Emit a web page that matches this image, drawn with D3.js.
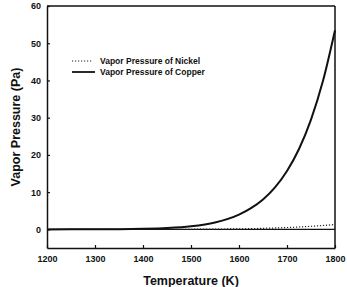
<!DOCTYPE html>
<html>
<head>
<meta charset="utf-8">
<script src="https://cdn.jsdelivr.net/npm/d3@7"></script>
<style>
  body { margin: 0; background: #fff; }
  text { font-family: "Liberation Sans", Arial, sans-serif; font-weight: bold; fill: #111; }
</style>
</head>
<body>
<div id="chart"></div>
<script>
// temperatures (K) and pressures (Pa)
var temps = [1200, 1250, 1300, 1350, 1400, 1450, 1500, 1550, 1600, 1625, 1650, 1675, 1700, 1725, 1750, 1775, 1800];
var copper = [0.002, 0.006, 0.018, 0.05, 0.14, 0.35, 0.83, 1.86, 3.96, 5.7, 8.05, 11.3, 15.7, 21.6, 29.5, 39.9, 53.5];
var nickel = [0.0, 0.0, 0.001, 0.004, 0.01, 0.02, 0.04, 0.08, 0.15, 0.2, 0.28, 0.38, 0.5, 0.64, 0.82, 1.04, 1.3];
var seriesNames = ["Vapor Pressure of Nickel", "Vapor Pressure of Copper"];
var xTicks = [1200, 1300, 1400, 1500, 1600, 1700, 1800];
var yTicks = [0, 10, 20, 30, 40, 50, 60];

var svgWidth = 347, svgHeight = 287;
var margin = { top: 6, right: 12, bottom: 39, left: 47 };
var width = svgWidth - margin.left - margin.right;
var height = svgHeight - margin.top - margin.bottom;

var svg = d3.select("#chart").append("svg")
    .attr("width", svgWidth)
    .attr("height", svgHeight);

var g = svg.append("g")
    .attr("transform", `translate(${margin.left},${margin.top})`);

var x = d3.scaleLinear().domain([1200, 1800]).range([0, width]);
var y = d3.scaleLinear().domain([-5, 60]).range([height, 0]);

// axes, ticks point inside
var bottomAxis = d3.axisBottom(x).tickValues(xTicks).tickFormat(d3.format("d"))
    .tickSizeInner(-3).tickSizeOuter(0).tickPadding(8);
var leftAxis = d3.axisLeft(y).tickValues(yTicks).tickFormat(d3.format("d"))
    .tickSizeInner(-3).tickSizeOuter(0).tickPadding(6);

var xg = g.append("g").attr("transform", `translate(0,${height})`).call(bottomAxis);
var yg = g.append("g").call(leftAxis);
[xg, yg].forEach(function(a) {
    a.select(".domain").attr("stroke", "#111").attr("stroke-width", 1.5);
    a.selectAll(".tick line").attr("stroke", "#111").attr("stroke-width", 1.2);
    a.selectAll(".tick text").style("font-size", "9px").style("font-weight", "bold")
        .style("font-family", "'Liberation Sans', Arial, sans-serif").attr("fill", "#222");
});

// top and right frame
g.append("line").attr("x1", 0).attr("x2", width).attr("y1", 0).attr("y2", 0)
    .attr("stroke", "#111").attr("stroke-width", 1.5);
g.append("line").attr("x1", width).attr("x2", width).attr("y1", 0).attr("y2", height)
    .attr("stroke", "#111").attr("stroke-width", 1.5);

// zero line
g.append("line").attr("x1", 0).attr("x2", width).attr("y1", y(0)).attr("y2", y(0))
    .attr("stroke", "#111").attr("stroke-width", 1.3);

var line = d3.line().curve(d3.curveMonotoneX);

g.append("path")
    .attr("d", line(temps.map((t, i) => [x(t), y(nickel[i])])))
    .attr("fill", "none").attr("stroke", "#222").attr("stroke-width", 1.2)
    .attr("stroke-dasharray", "1.2,1.8");

g.append("path")
    .attr("d", line(temps.map((t, i) => [x(t), y(copper[i])])))
    .attr("fill", "none").attr("stroke", "#111").attr("stroke-width", 2);

// legend
var legend = svg.append("g").attr("transform", "translate(72,61)");
legend.append("line").attr("x1", 0).attr("x2", 21).attr("y1", 0).attr("y2", 0)
    .attr("stroke", "#222").attr("stroke-width", 1.1).attr("stroke-dasharray", "1.2,1.8");
legend.append("line").attr("x1", 0).attr("x2", 23).attr("y1", 11).attr("y2", 11)
    .attr("stroke", "#111").attr("stroke-width", 1.8);
legend.selectAll("text.leg").data(seriesNames).enter().append("text")
    .attr("class", "leg")
    .attr("x", 28).attr("y", (d, i) => i * 11 + 3)
    .style("font-size", "8.5px")
    .text(d => d);

// axis titles
svg.append("text")
    .attr("x", margin.left + width / 2).attr("y", 285)
    .attr("text-anchor", "middle")
    .style("font-size", "12.5px")
    .text("Temperature (K)");

svg.append("text")
    .attr("transform", "translate(20,127) rotate(-90)")
    .attr("text-anchor", "middle")
    .style("font-size", "12.5px")
    .text("Vapor Pressure (Pa)");
</script>
</body>
</html>
